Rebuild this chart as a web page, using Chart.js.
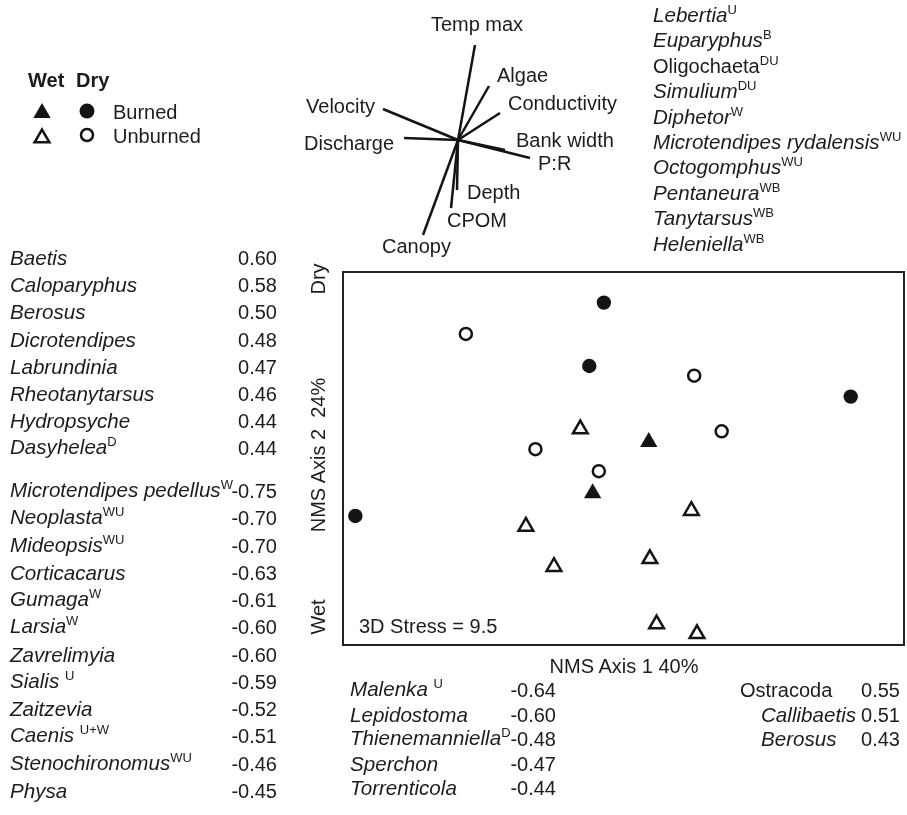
<!DOCTYPE html>
<html><head><meta charset="utf-8">
<script src="https://cdn.jsdelivr.net/npm/chart.js@4.4.1/dist/chart.umd.min.js"></script>
<style>
html,body{margin:0;padding:0;background:#fff;}
#wrap{position:relative;width:907px;height:815px;overflow:hidden;font-family:"Liberation Sans",Arial,Helvetica,sans-serif;color:#1c1c1c;font-size:20px;}
#main{position:absolute;left:0;top:0;}
#bip{position:absolute;left:358px;top:30px;}
.t{position:absolute;white-space:pre;line-height:20px;}
.t i{font-size:20.6px;}
.t sup{font-size:13px;vertical-align:0;position:relative;top:-8px;font-style:normal;}
.b{font-weight:bold;}
</style></head><body>
<div id="wrap">
<canvas id="main" width="907" height="815"></canvas>
<canvas id="bip" width="200" height="220"></canvas>
</div>
<script>
// ---------- sample scores (NMS ordination, axis units 0-100 across plot frame) ----------
const dryBurnedX   = [46.5, 43.9, 90.5, 2.2];
const dryBurnedY   = [91.8, 74.8, 66.6, 34.6];
const dryUnburnedX = [21.9, 62.6, 67.5, 34.3, 45.6];
const dryUnburnedY = [83.4, 72.2, 57.3, 52.5, 46.6];
const wetBurnedX   = [54.5, 44.5];
const wetBurnedY   = [54.4, 40.7];
const wetUnburnedX = [42.3, 62.1, 32.6, 54.7, 37.6, 55.9, 63.1];
const wetUnburnedY = [57.9, 36.0, 31.8, 23.1, 21.0, 5.6, 3.0];

// ---------- environmental vectors (biplot) ----------
const envNames = ["Temp max","Algae","Conductivity","Velocity","Discharge","Bank width","P:R","Depth","CPOM","Canopy"];
const envX = [0.17, 0.31, 0.42, -0.75, -0.54, 0.47, 0.72, -0.01, -0.07, -0.35];
const envY = [0.95, 0.54, 0.27, 0.31, 0.02, -0.10, -0.18, -0.50, -0.68, -0.95];

// ---------- species correlations ----------
const axis2PosNames = ["Baetis","Caloparyphus","Berosus","Dicrotendipes","Labrundinia","Rheotanytarsus","Hydropsyche","Dasyhelea"];
const axis2PosSup   = ["","","","","","","","D"];
const axis2PosVals  = ["0.60","0.58","0.50","0.48","0.47","0.46","0.44","0.44"];
const axis2NegNames = ["Microtendipes pedellus","Neoplasta","Mideopsis","Corticacarus","Gumaga","Larsia","Zavrelimyia","Sialis ","Zaitzevia","Caenis ","Stenochironomus","Physa"];
const axis2NegSup   = ["W","WU","WU","","W","W","","U","","U+W","WU",""];
const axis2NegVals  = ["-0.75","-0.70","-0.70","-0.63","-0.61","-0.60","-0.60","-0.59","-0.52","-0.51","-0.46","-0.45"];
const axis1NegNames = ["Malenka ","Lepidostoma","Thienemanniella","Sperchon","Torrenticola"];
const axis1NegSup   = ["U","","D","",""];
const axis1NegVals  = ["-0.64","-0.60","-0.48","-0.47","-0.44"];
const axis1PosNames = ["Ostracoda","Callibaetis","Berosus"];
const axis1PosItal  = [false,true,true];
const axis1PosVals  = ["0.55","0.51","0.43"];
const indicNames = ["Lebertia","Euparyphus","Oligochaeta","Simulium","Diphetor","Microtendipes rydalensis","Octogomphus","Pentaneura","Tanytarsus","Heleniella"];
const indicSup   = ["U","B","DU","DU","W","WU","WU","WB","WB","WB"];
const indicItal  = [true,true,false,true,true,true,true,true,true,true];

// ---------- text helper ----------
const wrap = document.getElementById('wrap');
function addText(x, y, html, align, extra){
  const d = document.createElement('div');
  d.className = 't' + (extra ? ' ' + extra : '');
  d.innerHTML = html;
  d.style.left = x + 'px'; d.style.top = y + 'px';
  const tx = align === 'right' ? '-100%' : (align === 'center' ? '-50%' : '0');
  d.style.transform = 'translate(' + tx + ',-50%)';
  wrap.appendChild(d);
  return d;
}
function addRot(x, y, text){
  const d = document.createElement('div');
  d.className = 't';
  d.textContent = text;
  d.style.left = x + 'px'; d.style.top = y + 'px';
  d.style.transform = 'translate(-50%,-50%) rotate(-90deg)';
  wrap.appendChild(d);
}
function nm(name, sup, ital){
  const n = ital === false ? name : '<i>' + name + '</i>';
  return n + (sup ? '<sup>' + sup + '</sup>' : '');
}

// left lists
axis2PosNames.forEach((n,i)=>{
  const y = 258 + 27.2*i;
  addText(10, y, nm(n, axis2PosSup[i]));
  addText(277, y, axis2PosVals[i], 'right');
});
axis2NegNames.forEach((n,i)=>{
  const y = 491 + 27.27*i;
  addText(10, y, nm(n, axis2NegSup[i]));
  addText(277, y, axis2NegVals[i], 'right');
});
// bottom lists
axis1NegNames.forEach((n,i)=>{
  const y = 690 + 24.5*i;
  addText(350, y, nm(n, axis1NegSup[i]));
  addText(556, y, axis1NegVals[i], 'right');
});
axis1PosNames.forEach((n,i)=>{
  const y = 690 + 24.5*i;
  addText(i === 0 ? 740 : 761, y, nm(n, '', axis1PosItal[i]));
  addText(900, y, axis1PosVals[i], 'right');
});
// top-right list
indicNames.forEach((n,i)=>{
  addText(653, 16 + 25.4*i, nm(n, indicSup[i], indicItal[i]));
});
// axis titles
addText(624, 666, 'NMS Axis 1 40%', 'center');
addRot(318, 279, 'Dry');
addRot(318, 455, 'NMS Axis 2  24%');
addRot(318, 617, 'Wet');
addText(359, 626, '3D Stress = 9.5');
// legend text
addText(28, 80, 'Wet', 'left', 'b');
addText(76, 80, 'Dry', 'left', 'b');
addText(113, 112, 'Burned');
addText(113, 136, 'Unburned');
// biplot labels
const envLabelPos = [[477,24,'center'],[497,75],[508,103],[375,106,'right'],[304,143],[516,140],[538,163],[467,192],[447,220],[382,246]];
envNames.forEach((n,i)=>{
  const p = envLabelPos[i];
  addText(p[0], p[1], n, p[2] || 'left');
});

// ---------- main scatter ----------
const ink = '#141414';
const toPts = (xs, ys) => xs.map((x,i)=>({x, y: ys[i]}));
function glyph(ctx, style, filled, r, x, y){
  ctx.save();
  ctx.beginPath();
  if (style === 'circle') {
    ctx.arc(x, y, r, 0, Math.PI*2);
  } else {
    for (let k=0;k<3;k++){
      const a = k*2*Math.PI/3;
      const px = x + Math.sin(a)*r, py = y - Math.cos(a)*r;
      k ? ctx.lineTo(px,py) : ctx.moveTo(px,py);
    }
    ctx.closePath();
  }
  if (filled){ ctx.fillStyle = ink; ctx.fill(); }
  else { ctx.strokeStyle = ink; ctx.lineWidth = 2.5; ctx.stroke(); }
  ctx.restore();
}
const framePlugin = {
  id: 'frame',
  afterDraw(chart){
    const {ctx, chartArea:a} = chart;
    ctx.save();
    ctx.strokeStyle = '#222'; ctx.lineWidth = 2;
    ctx.strokeRect(a.left, a.top, a.right - a.left, a.bottom - a.top);
    ctx.restore();
    // legend glyphs
    glyph(ctx, 'triangle', true, 10, 42, 113);
    glyph(ctx, 'circle', true, 7.5, 87, 111);
    glyph(ctx, 'triangle', false, 8.5, 42, 138);
    glyph(ctx, 'circle', false, 6, 87, 135);
  }
};
new Chart(document.getElementById('main'), {
  type: 'scatter',
  data: { datasets: [
    { label:'Dry Burned', data: toPts(dryBurnedX, dryBurnedY), pointStyle:'circle', pointRadius:7.2, backgroundColor:ink, borderColor:ink, borderWidth:0 },
    { label:'Dry Unburned', data: toPts(dryUnburnedX, dryUnburnedY), pointStyle:'circle', pointRadius:6, backgroundColor:'rgba(0,0,0,0)', borderColor:ink, borderWidth:2.5 },
    { label:'Wet Burned', data: toPts(wetBurnedX, wetBurnedY), pointStyle:'triangle', pointRadius:10, backgroundColor:ink, borderColor:ink, borderWidth:0 },
    { label:'Wet Unburned', data: toPts(wetUnburnedX, wetUnburnedY), pointStyle:'triangle', pointRadius:8.5, backgroundColor:'rgba(0,0,0,0)', borderColor:ink, borderWidth:2.5 }
  ]},
  options: {
    responsive:false, animation:false, events:[], clip:false,
    layout:{ autoPadding:false, padding:{ left:343, top:272, right:3, bottom:170 } },
    plugins:{ legend:{display:false}, tooltip:{enabled:false} },
    scales:{
      x:{ type:'linear', display:false, min:0, max:100 },
      y:{ type:'linear', display:false, min:0, max:100 }
    }
  },
  plugins:[framePlugin]
});

// ---------- biplot ----------
new Chart(document.getElementById('bip'), {
  type:'scatter',
  data:{ datasets: envNames.map((n,i)=>({
    label:n, data:[{x:0,y:0},{x:envX[i],y:envY[i]}], showLine:true,
    borderColor:ink, borderWidth:2.5, pointRadius:0, clip:false
  }))},
  options:{
    responsive:false, animation:false, events:[],
    layout:{autoPadding:false, padding:0},
    plugins:{ legend:{display:false}, tooltip:{enabled:false} },
    scales:{ x:{display:false,min:-1,max:1}, y:{display:false,min:-1.1,max:1.1} }
  }
});
</script>
</body></html>
